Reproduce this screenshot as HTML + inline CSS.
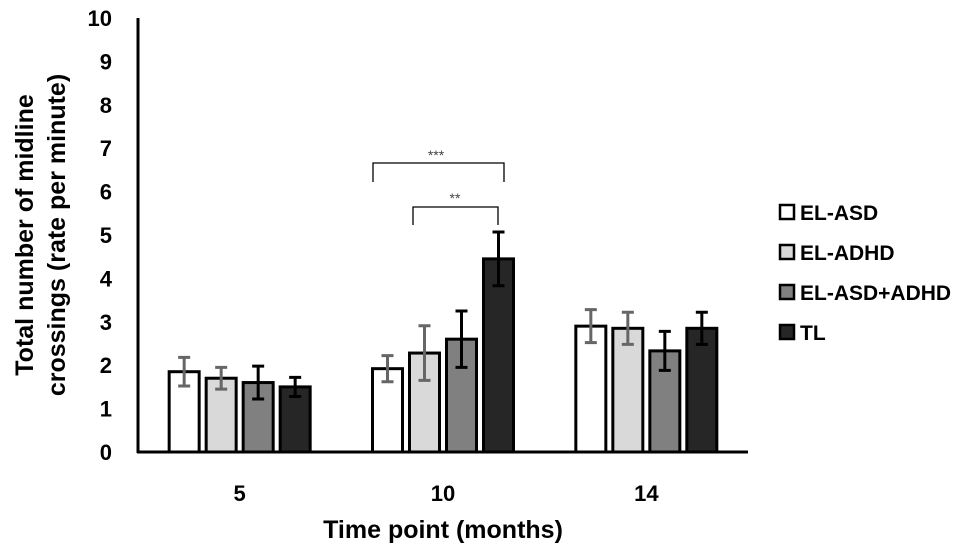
<!DOCTYPE html>
<html><head><meta charset="utf-8"><style>
html,body{margin:0;padding:0;background:#fff}
svg{display:block;font-family:"Liberation Sans",Arial,sans-serif}
</style></head><body>
<svg id="chart" width="969" height="553">
<g id="axes"></g><g id="bars"></g>
<g fill="none" stroke="#000" stroke-width="1.3">
<path d="M373,182 V163 H504 V182"/>
<path d="M413,225 V207 H498 V225"/>
</g>
<text x="436" y="160" font-size="14" text-anchor="middle" fill="#444">***</text>
<text x="455" y="203" font-size="14" text-anchor="middle" fill="#444">**</text>
<g id="legend"></g>
<text transform="translate(33,235) rotate(-90)" text-anchor="middle" font-size="25" font-weight="bold">Total number of midline</text>
<text transform="translate(65,235) rotate(-90)" text-anchor="middle" font-size="25" font-weight="bold">crossings (rate per minute)</text>
<text x="443" y="538" text-anchor="middle" font-size="25" font-weight="bold">Time point (months)</text>
</svg>
<script>
const categories=["5","10","14"];
const seriesNames=["EL-ASD","EL-ADHD","EL-ASD+ADHD","TL"];
const elAsd=[1.85,1.92,2.9];
const elAdhd=[1.7,2.28,2.85];
const elBoth=[1.6,2.6,2.33];
const tl=[1.5,4.45,2.85];
const elAsdErr=[0.33,0.3,0.38];
const elAdhdErr=[0.25,0.63,0.37];
const elBothErr=[0.38,0.65,0.45];
const tlErr=[0.22,0.62,0.37];
const yTicks=[0,1,2,3,4,5,6,7,8,9,10];
const NS="http://www.w3.org/2000/svg";
const fills=["#ffffff","#d9d9d9","#808080","#262626"];
const errCols=["#666","#666","#000","#000"];
const x0=138,x1=748,yTop=18,yBot=452;
const y=v=>yBot-(v/10)*(yBot-yTop);
const band=(x1-x0)/categories.length;
const xc=i=>x0+band*(i+0.5);
function mk(t,a,p){const e=document.createElementNS(NS,t);for(const k in a)e.setAttribute(k,a[k]);p.appendChild(e);return e;}
const axes=document.getElementById('axes');
const ya=mk('line',{x1:x0,y1:yTop,x2:x0,y2:yBot+1,stroke:'#000','stroke-width':3},axes);


const xa=mk('line',{x1:x0-1,y1:yBot,x2:x1,y2:yBot,stroke:'#000','stroke-width':3},axes);


yTicks.forEach(t=>{const e=mk('text',{x:112,y:y(t)+8,'text-anchor':'end','font-size':22,'font-weight':'bold'},axes);e.textContent=t;

});
categories.forEach((c,i)=>{const e=mk('text',{x:xc(i),y:501,'text-anchor':'middle','font-size':22,'font-weight':'bold'},axes);e.textContent=c;

});
const series=[elAsd,elAdhd,elBoth,tl],errs=[elAsdErr,elAdhdErr,elBothErr,tlErr];
const bars=document.getElementById('bars');
const bw=30,step=37;
categories.forEach((c,i)=>{series.forEach((s,j)=>{
 const cx=xc(i)+(j-1.5)*step;
 const r=mk('rect',{x:cx-bw/2,y:y(s[i]),width:bw,height:yBot-y(s[i]),fill:fills[j],stroke:'#000','stroke-width':3},bars);
 
 
 const hi=y(s[i]+errs[j][i]),lo=y(s[i]-errs[j][i]);
 const g=mk('path',{d:`M${cx},${hi}V${lo}M${cx-6},${hi}H${cx+6}M${cx-6},${lo}H${cx+6}`,stroke:errCols[j],'stroke-width':3,fill:'none'},bars);
 
 
});});
const lg=document.getElementById('legend');
seriesNames.forEach((n,j)=>{const yy=213+j*40;
 const r=mk('rect',{x:780,y:yy-8,width:14,height:14,fill:fills[j],stroke:'#000','stroke-width':2.5},lg);
 
 
 const t=mk('text',{x:800,y:yy+7,'font-size':21,'font-weight':'bold'},lg);t.textContent=n;
 
 
});
</script>
</body></html>
